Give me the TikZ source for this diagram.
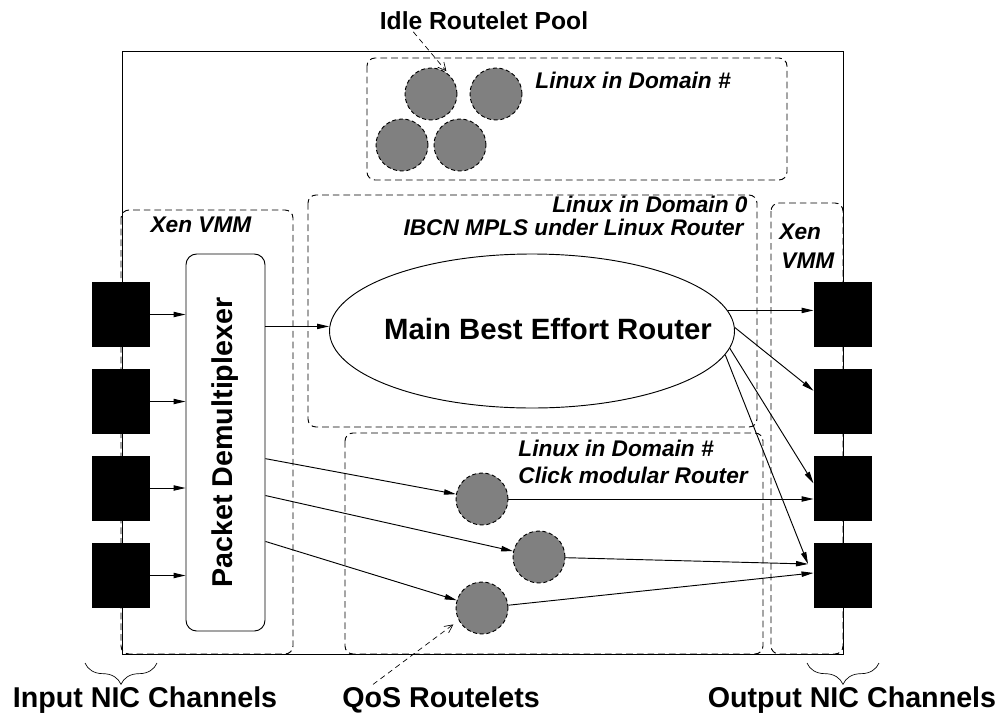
\documentclass[tikz,border=0pt]{standalone}
\usepackage{fontspec}
\setmainfont{Liberation Sans}
\usetikzlibrary{positioning,shapes.geometric,arrows.meta,decorations.pathreplacing}

\begin{document}
\begin{tikzpicture}[x=0.75pt,y=-0.75pt,>={Triangle[length=9pt,width=4pt]},line width=0.7pt,
  nic/.style={rectangle,fill=black,minimum width=43.5pt,minimum height=48.75pt,inner sep=0pt},
  routelet/.style={circle,draw,dash pattern=on 3pt off 2pt,fill=gray,minimum size=39pt,inner sep=0pt},
  dbox/.style={draw,dash pattern=on 5pt off 3pt,rounded corners=6pt},
  ital/.style={font=\fontsize{17}{20}\selectfont\bfseries\itshape,inner sep=0pt},
  caption/.style={font=\fontsize{21.5}{25}\selectfont\bfseries,inner sep=1pt},
  pointer/.style={-{Straight Barb[length=6pt,width=6pt]},dash pattern=on 4pt off 3pt,line width=0.5pt}]
  \useasboundingbox (0,0) rectangle (1007,715);

  % frame and domains
  \draw (122,51) rectangle (843,654);
  \draw[dbox] (367,58) rectangle (787,180);
  \draw[dbox] (121,210) rectangle (293,654);
  \draw[dbox] (308,195) rectangle (757,427);
  \draw[dbox] (345,433) rectangle (763,654);
  \draw[dbox] (771,203) rectangle (843,654);

  \node[ital,anchor=base west] (pooltxt) at (535,88) {Linux in Domain \#};
  \node[ital,anchor=base] (xenl) at (201,232) {Xen VMM};
  \node[ital,anchor=base east] (dom0a) at (748,212) {Linux in Domain 0};
  \node[ital,anchor=base east] (dom0b) at (744,235) {IBCN MPLS under Linux Router};
  \node[ital,anchor=base west] (domqa) at (518,456) {Linux in Domain \#};
  \node[ital,anchor=base west] (domqb) at (518,483) {Click modular Router};
  \node[ital,anchor=base west] (xenr1) at (779,239) {Xen};
  \node[ital,anchor=base west] (xenr2) at (781,268) {VMM};

  % NIC channels
  \node[nic] (in1) at (121,314.5) {};
  \node[nic] (in2) at (121,401.5) {};
  \node[nic] (in3) at (121,488) {};
  \node[nic] (in4) at (121,575.5) {};
  \node[nic] (out1) at (843,314.5) {};
  \node[nic] (out2) at (843,401.5) {};
  \node[nic] (out3) at (843,488) {};
  \node[nic] (out4) at (843,575.5) {};

  \node[draw,rounded corners=8pt,minimum width=59.25pt,minimum height=282.75pt,inner sep=0pt,
    font=\fontsize{21.5}{25}\selectfont\bfseries] (demux) at (225.5,442.5)
    {\rotatebox{90}{Packet Demultiplexer}};
  \node[ellipse,draw,minimum width=303.75pt,minimum height=115.5pt,inner sep=0pt] (router) at (532,331) {};
  \node[font=\fontsize{22}{26}\selectfont\bfseries,inner sep=0pt] (routertxt) at (548,329) {Main Best Effort Router};

  % routelets
  \node[routelet] (p1) at (431,94) {};
  \node[routelet] (p2) at (496,94) {};
  \node[routelet] (p3) at (402,145) {};
  \node[routelet] (p4) at (460,145) {};
  \node[routelet] (q1) at (482,499) {};
  \node[routelet] (q2) at (539,557) {};
  \node[routelet] (q3) at (482,608) {};

  % traffic
  \draw[->] (in1) -- (in1 -| demux.west);
  \draw[->] (in2) -- (in2 -| demux.west);
  \draw[->] (in3) -- (in3 -| demux.west);
  \draw[->] (in4) -- (in4 -| demux.west);
  \draw[->] (demux.71) -- (demux.71 -| router.west);
  \draw[->] (demux.-22) -- (q1);
  \draw[->] (demux.-53) -- (q2);
  \draw[->] (demux.-68) -- (q3);
  \coordinate (join) at (808,564);
  \draw[->] (router.6) -- (router.6 -| out1.west);
  \draw[->] (router.1) -- (out2.160);
  \draw[->] (router.-5) -- (out3.171);
  \draw[->] (router.-7) -- (join);
  \draw[->] (q1) -- (q1 -| out3.west);
  \draw[->] (q2) -- (join);
  \draw[->] (q3) -- (out4.175);

  % captions
  \node[font=\fontsize{18.5}{22}\selectfont\bfseries,inner sep=1pt] (idle) at (484,21) {Idle Routelet Pool};
  \node[caption,anchor=base] (inlbl) at (145,707) {Input NIC Channels};
  \node[caption,anchor=base] (qos) at (441,707) {QoS Routelets};
  \node[caption,anchor=base] (outlbl) at (852,707) {Output NIC Channels};
  \draw[pointer,shorten >=7pt] ([xshift=-53pt]idle.south) -- (p1.36);
  \draw[pointer,shorten >=5pt] ([xshift=-51pt]qos.north) -- (q3.208);
  \draw[line width=0.5pt,decorate,decoration={brace,mirror,amplitude=16pt}] (85,663) -- (157,663);
  \draw[line width=0.5pt,decorate,decoration={brace,mirror,amplitude=16pt}] (807,663) -- (879,663);
\end{tikzpicture}
\end{document}
